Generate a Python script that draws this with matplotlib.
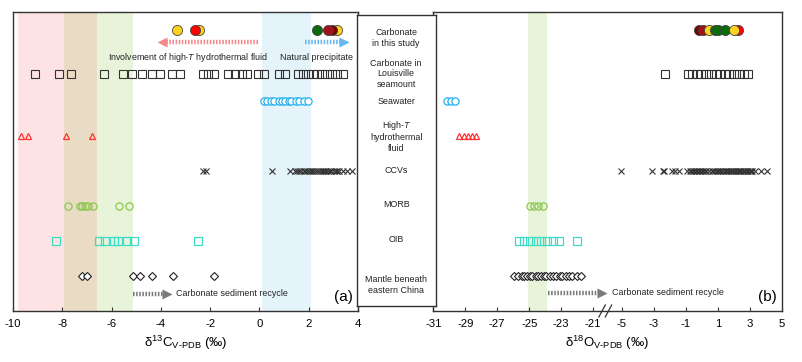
import numpy as np
import matplotlib
matplotlib.use('Agg')
import matplotlib.pyplot as plt

plt.rcParams['font.family'] = ['Liberation Sans', 'DejaVu Sans']
plt.rcParams['mathtext.fontset'] = 'custom'
plt.rcParams['mathtext.rm'] = 'Liberation Sans'
plt.rcParams['mathtext.it'] = 'Liberation Sans:italic'
plt.rcParams['mathtext.bf'] = 'Liberation Sans:bold'

# -----------------------------------------------------------------------
# Data
# -----------------------------------------------------------------------
ROW_LABELS = ["Carbonate\nin this study", "Carbonate in\nLouisville\nseamount",
              "Seawater", "High-$T$\nhydrothermal\nfluid", "CCVs", "MORB",
              "OIB", "Mantle beneath\neastern China"]

# carbonate in this study: values and fill colours, in drawing order
STUDY_C = [-3.36, -2.44, -2.62, 3.14, 2.33, 2.93, 2.78]
STUDY_C_COL = ["#FFD21F", "#FFD21F", "#FF0000", "#FFD21F", "#0A6B0A", "#7A0000", "#A3121A"]
STUDY_O = [2.25, -0.2, 0.1, 0.45, 0.85, 1.0, 1.42, 1.99]
STUDY_O_COL = ["#FF0000", "#7A0000", "#A3121A", "#FFD21F", "#0A6B0A", "#0A6B0A", "#0A6B0A", "#FFD21F"]

LOUIS_C = [-9.11, -8.12, -7.66, -6.31, -5.52, -5.18, -4.78, -4.37, -4.03, -3.56, -3.22,
           -2.28, -2.08, -1.85, -1.26, -0.99, -0.72, -0.52, -0.04, 0.19, 0.81, 1.04,
           1.55, 1.78, 1.98, 2.16, 2.33, 2.53, 2.73, 2.94, 3.14, 3.41]
LOUIS_O = [-2.29, -0.86, -0.59, -0.28, -0.03, 0.24, 0.55, 0.86, 1.12, 1.42, 1.68,
           1.99, 2.3, 2.61, 2.86]

SEA_C = [0.18, 0.3, 0.46, 0.58, 0.8, 0.93, 1.04, 1.2, 1.28, 1.47, 1.6, 1.82, 1.96]
SEA_O = [-30.15, -29.9, -29.63]

HT_C = [-9.69, -9.38, -7.86, -6.78]
HT_O = [-29.42, -29.1, -28.85, -28.58, -28.3]

CCV_C = [-2.29, -2.17, 0.52, 1.26, 1.43, 1.52, 1.61, 1.68, 1.79, 1.86, 1.93, 2.01,
         2.09, 2.15, 2.22, 2.31, 2.38, 2.45, 2.52, 2.6, 2.66, 2.71, 2.79, 2.85, 2.92,
         3.01, 3.09, 3.16, 3.22, 3.41, 3.57, 3.76]
CCV_O = [-5.04, -3.12, -2.45, -2.35, -1.87, -1.66, -1.45, -0.9, -0.77, -0.66, -0.58,
         -0.46, -0.38, -0.31, -0.2, -0.12, 0.02, 0.09, 0.17, 0.29, 0.48, 0.61, 0.73,
         0.81, 0.92, 1.04, 1.13, 1.21, 1.33, 1.42, 1.52, 1.63, 1.72, 1.81, 1.9, 1.97,
         2.08, 2.17, 2.26, 2.33, 2.39, 2.48, 2.57, 2.64, 2.71, 2.83, 2.92, 3.02, 3.1,
         3.16, 3.3, 3.7, 4.07]

MORB_C = [-7.78, -7.28, -7.21, -7.08, -6.94, -6.77, -5.69, -5.28]
MORB_O = [-24.94, -24.69, -24.43, -24.16]

OIB_C = [-8.27, -6.5, -6.27, -5.9, -5.73, -5.39, -5.09, -2.48]
OIB_O = [-25.63, -25.32, -24.96, -24.58, -24.26, -23.9, -23.53, -23.11, -21.99]

MANTLE_C = [-7.19, -7.01, -5.12, -4.85, -4.37, -3.49, -1.83]
MANTLE_O = [-25.95, -25.68, -25.47, -25.31, -25.12, -24.93, -24.81, -24.58, -24.44,
            -24.29, -24.08, -23.96, -23.71, -23.52, -23.33, -23.09, -22.92, -22.71,
            -22.48, -22.3, -22.04, -21.75]

# background bands
BANDS_C = [(-9.8, -7.95, "#FDE3E4"), (-7.95, -6.6, "#EADBC5"),
           (-6.6, -5.12, "#E8F4DA"), (0.1, 2.08, "#E5F3FB")]
BANDS_O = [(-25.1, -23.9, "#E8F4DA")]

C_TICKS = [-10, -8, -6, -4, -2, 0, 2, 4]
O_TICKS = [-31, -29, -27, -25, -23, -21, -5, -3, -1, 1, 3, 5]

# -----------------------------------------------------------------------
# Layout
# -----------------------------------------------------------------------
ROW_Y = [8.03, 6.77, 6.0, 5.0, 4.0, 3.0, 2.0, 1.0]
YMAX = 8.55
BREAK_SHIFT = 14.2   # right part of the broken oxygen axis is shifted left


def ox(v):
    v = np.asarray(v, dtype=float)
    return np.where(v > -15, v - BREAK_SHIFT, v)


fig = plt.figure(figsize=(8.03, 3.62), dpi=100)
axC = fig.add_axes([0.0162, 0.1409, 0.4296, 0.8268])
axO = fig.add_axes([0.5396, 0.1409, 0.4339, 0.8268])
axM = fig.add_axes([0.4442, 0.1547, 0.0984, 0.8039])

EDGE = "#333333"


def draw_rows(ax, study, study_col, louis, sea, ht, ccv, morb, oib, mantle, tf):
    for v, c in zip(study, study_col):
        ax.plot(tf(v), ROW_Y[0], 'o', ms=7.3, mfc=c, mec="#444444", mew=0.6, zorder=5)
    ax.plot(tf(louis), [ROW_Y[1]] * len(louis), 's', ms=5.2, mfc='none', mec=EDGE, mew=0.8)
    ax.plot(tf(sea), [ROW_Y[2]] * len(sea), 'o', ms=5.2, mfc='white', mec="#22B0EE", mew=0.9)
    ax.plot(tf(ht), [ROW_Y[3]] * len(ht), '^', ms=5, mfc='none', mec="#FF3030", mew=0.9)
    ax.plot(tf(ccv), [ROW_Y[4]] * len(ccv), 'x', ms=5, mec=EDGE, mew=0.8)
    ax.plot(tf(morb), [ROW_Y[5]] * len(morb), 'o', ms=5.2, mfc='none', mec="#8CC850", mew=0.9)
    ax.plot(tf(oib), [ROW_Y[6]] * len(oib), 's', ms=5.2, mfc='none', mec="#3EDCC6", mew=0.9)
    ax.plot(tf(mantle), [ROW_Y[7]] * len(mantle), 'D', ms=3.7, mfc='white', mec="#222222", mew=0.8)


def dotted_arrow(ax, x0, x1, y, color, head):
    ax.plot([x0, x1], [y, y], color=color, lw=3.2, linestyle=(0, (0.35, 0.35)),
            solid_capstyle='butt', dash_capstyle='butt')
    ax.plot(x1, y, head, ms=6.5, color=color, mec='none')


def style_axis(ax):
    for s in ax.spines.values():
        s.set_color(EDGE)
        s.set_linewidth(1.0)
    ax.set_yticks([])
    ax.set_ylim(0, YMAX)
    ax.tick_params(axis='x', direction='in', length=3, width=0.8, labelsize=8.2,
                   pad=6, color=EDGE)


# --- carbon panel ---
for a, b, c in BANDS_C:
    axC.axvspan(a, b, color=c, lw=0, zorder=0)
draw_rows(axC, STUDY_C, STUDY_C_COL, LOUIS_C, SEA_C, HT_C, CCV_C, MORB_C, OIB_C,
          MANTLE_C, lambda v: v)
dotted_arrow(axC, -0.05, -3.95, 7.67, "#F58A8A", '<')
dotted_arrow(axC, 1.85, 3.45, 7.67, "#66B8F0", '>')
axC.text(-2.9, 7.24, "Involvement of high-$T$ hydrothermal fluid", fontsize=6.4,
         ha='center', va='center', color="#222222")
axC.text(2.33, 7.24, "Natural precipitate", fontsize=6.4, ha='center', va='center',
         color="#222222")
dotted_arrow(axC, -5.12, -3.75, 0.49, "#7A7A7A", '>')
axC.text(-3.4, 0.49, "Carbonate sediment recycle", fontsize=6.4, ha='left', va='center',
         color="#222222")
axC.text(0.985, 0.025, "(a)", transform=axC.transAxes, fontsize=11, ha='right', va='bottom')
axC.set_xlim(-10, 4)
axC.set_xticks(C_TICKS)
axC.set_xticklabels([str(t) for t in C_TICKS])
style_axis(axC)
axC.set_xlabel(r"δ$^{13}$C$_{\text{V-PDB}}$ (‰)", fontsize=9.5, labelpad=3)

# --- oxygen panel (broken axis) ---
for a, b, c in BANDS_O:
    axO.axvspan(a, b, color=c, lw=0, zorder=0)
draw_rows(axO, STUDY_O, STUDY_O_COL, LOUIS_O, SEA_O, HT_O, CCV_O, MORB_O, OIB_O,
          MANTLE_O, ox)
dotted_arrow(axO, -23.8, -20.45, 0.52, "#7A7A7A", '>')
axO.text(-19.85, 0.52, "Carbonate sediment recycle", fontsize=6.4, ha='left', va='center',
         color="#222222")
axO.text(0.985, 0.025, "(b)", transform=axO.transAxes, fontsize=11, ha='right', va='bottom')
axO.set_xlim(-31, 5 - BREAK_SHIFT)
axO.set_xticks(ox(O_TICKS))
axO.set_xticklabels([str(t) for t in O_TICKS])
style_axis(axO)
bx = -20.24
for dx in (-0.2, 0.2):
    axO.plot([bx + dx - 0.2, bx + dx + 0.2], [-0.02, 0.02], color=EDGE, lw=0.9,
             transform=axO.get_xaxis_transform(), clip_on=False)
axO.set_xlabel(r"δ$^{18}$O$_{\text{V-PDB}}$ (‰)", fontsize=9.5, labelpad=3)

# --- middle label box ---
axM.set_facecolor('white')
axM.set_xticks([])
axM.set_yticks([])
for s in axM.spines.values():
    s.set_color(EDGE)
    s.set_linewidth(1.0)
axM.set_xlim(0, 1)
axM.set_ylim(306, 15)
label_y = [38, 74, 102, 136, 170.7, 205, 240, 285]
for lab, yy in zip(ROW_LABELS, label_y):
    axM.text(0.5, yy, lab, fontsize=6.4, ha='center', va='center', linespacing=1.2,
             color="#222222")

fig.savefig("out.png", dpi=100)
